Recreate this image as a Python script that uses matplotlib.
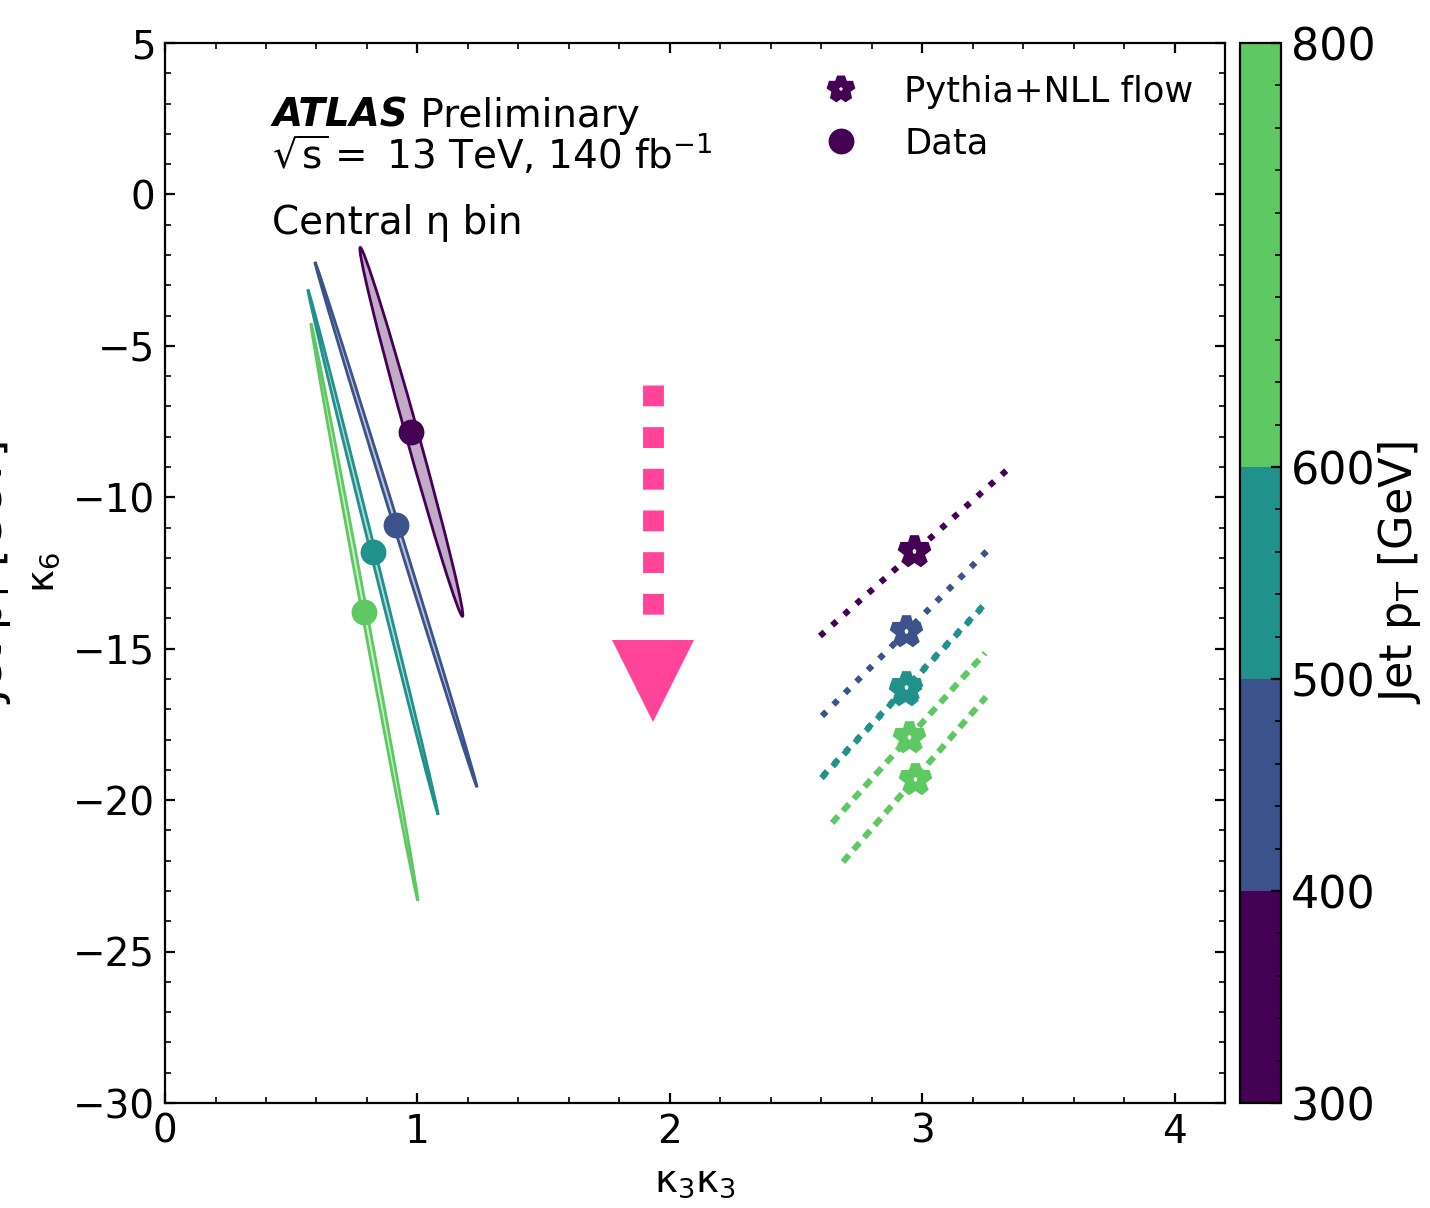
import numpy as np
import matplotlib
matplotlib.use('Agg')
import matplotlib.pyplot as plt
from matplotlib.patches import Ellipse
from matplotlib.colors import ListedColormap, BoundaryNorm
from matplotlib.cm import ScalarMappable
from matplotlib.lines import Line2D
from matplotlib.ticker import MultipleLocator

# ---- data ----
pt_bounds = [300, 400, 500, 600, 800]
pt_colors = ['#440154', '#3b528b', '#21918c', '#5ec962']

# measured data (1 sigma ellipses)
data_pt = [350, 450, 550, 700]
data_x = [0.976, 0.915, 0.824, 0.790]
data_y = [-7.84, -10.90, -11.81, -13.79]
data_sx = [0.204, 0.321, 0.258, 0.212]
data_sy = [6.09, 8.67, 8.67, 9.53]
data_rho = [-0.992, -0.9995, -0.9993, -0.9989]

# Pythia+NLL flow predictions and their variation lines
mc_pt = [350, 450, 550, 560, 650, 750]
mc_x = [2.968, 2.936, 2.930, 2.936, 2.948, 2.972]
mc_y = [-11.77, -14.41, -16.36, -16.28, -17.92, -19.30]
mc_x0 = [2.595, 2.603, 2.601, 2.607, 2.643, 2.686]
mc_x1 = [3.336, 3.257, 3.259, 3.265, 3.249, 3.253]
mc_y0 = [-14.58, -17.22, -19.27, -19.19, -20.75, -22.04]
mc_y1 = [-9.10, -11.77, -13.45, -13.37, -15.14, -16.59]

# shift arrow
arrow_x = 1.935
arrow_y = [-6.29, -14.08]
arrow_head_y = -16.08

cmap = ListedColormap(pt_colors)
norm = BoundaryNorm(pt_bounds, cmap.N)

plt.rcParams['font.size'] = 14

fig = plt.figure(figsize=(7.15, 6.04), dpi=200)
ax = fig.add_axes([0.1154, 0.0869, 0.7413, 0.8775])
cax = fig.add_axes([0.8671, 0.0869, 0.0287, 0.8775])

# data ellipses
for x, y, sx, sy, rho, pt in zip(data_x, data_y, data_sx, data_sy, data_rho, data_pt):
    c = cmap(norm(pt))
    cov = np.array([[sx**2, rho*sx*sy], [rho*sx*sy, sy**2]])
    vals, vecs = np.linalg.eigh(cov)
    angle = np.degrees(np.arctan2(vecs[1, 1], vecs[0, 1]))
    w, h = 2*np.sqrt(vals[1]), 2*np.sqrt(max(vals[0], 0))
    ax.add_patch(Ellipse((x, y), w, h, angle=angle, facecolor=c, alpha=0.33,
                         edgecolor='none', zorder=2))
    ax.add_patch(Ellipse((x, y), w, h, angle=angle, facecolor='none',
                         edgecolor=c, lw=1.0, zorder=3))
    ax.plot(x, y, 'o', color=c, ms=8.3, zorder=5)

# pythia lines + stars
for i in range(len(mc_pt)):
    c = cmap(norm(mc_pt[i]))
    dash = (1.5, 1.15) if mc_pt[i] >= 600 else (1, 1.65)
    ax.plot([mc_x0[i], mc_x1[i]], [mc_y0[i], mc_y1[i]], color=c, lw=2.2,
            dashes=dash, zorder=4)
    ax.plot(mc_x[i], mc_y[i], '*', color=c, mfc='white', mec=c, ms=10.5, mew=3.3,
            zorder=6)

# arrow
ax.plot([arrow_x, arrow_x], arrow_y, color='#ff4499', lw=7.5, dashes=(1, 1),
        dash_capstyle='butt', zorder=4)
ax.plot(arrow_x, arrow_head_y, 'v', color='#ff4499', ms=29.5, mew=0, zorder=4)

ax.set_xlim(0, 4.2)
ax.set_ylim(-30, 5)
ax.xaxis.set_major_locator(MultipleLocator(1))
ax.xaxis.set_minor_locator(MultipleLocator(0.2))
ax.yaxis.set_major_locator(MultipleLocator(5))
ax.yaxis.set_minor_locator(MultipleLocator(1))
ax.tick_params(which='both', direction='in', top=True, right=True)
ax.set_xlabel(r'$\mathrm{\kappa}_3\mathrm{\kappa}_3$')
ax.set_ylabel(r'$\mathrm{\kappa}_6$')

ax.text(0.101, 0.921, 'ATLAS', transform=ax.transAxes, fontweight='bold',
        fontstyle='italic', va='baseline')
atl = ax.texts[-1]
ax.annotate(' Preliminary', xy=(1, 0), xycoords=atl, va='bottom')
ax.text(0.101, 0.882, r'$\sqrt{\mathrm{s}}=$ 13 TeV, 140 fb$^{-1}$',
        transform=ax.transAxes, va='baseline')
ax.text(0.101, 0.820, 'Central η bin', transform=ax.transAxes, va='baseline')

handles = [
    Line2D([], [], ls='none', marker='*', color=pt_colors[0], mfc='white',
           mec=pt_colors[0], ms=9, mew=3),
    Line2D([], [], ls='none', marker='o', color=pt_colors[0], ms=8.3),
]
ax.legend(handles, ['Pythia+NLL flow', 'Data'], loc='upper right', frameon=False,
          fontsize=12.7, borderaxespad=0.5)

cb = fig.colorbar(ScalarMappable(norm=norm, cmap=cmap), cax=cax,
                  spacing='proportional', ticks=pt_bounds)
cb.ax.yaxis.set_minor_locator(MultipleLocator(20))
cb.ax.tick_params(which='both', direction='in', labelsize=16)
cb.set_label(r'Jet p$_\mathrm{T}$ [GeV]', fontsize=16, labelpad=0)

fig.text(-0.007, 0.5257, r'Jet p$_\mathrm{T}$ [GeV]', fontsize=16, rotation=90,
         ha='center', va='center')

fig.savefig('out.png', dpi=200)
